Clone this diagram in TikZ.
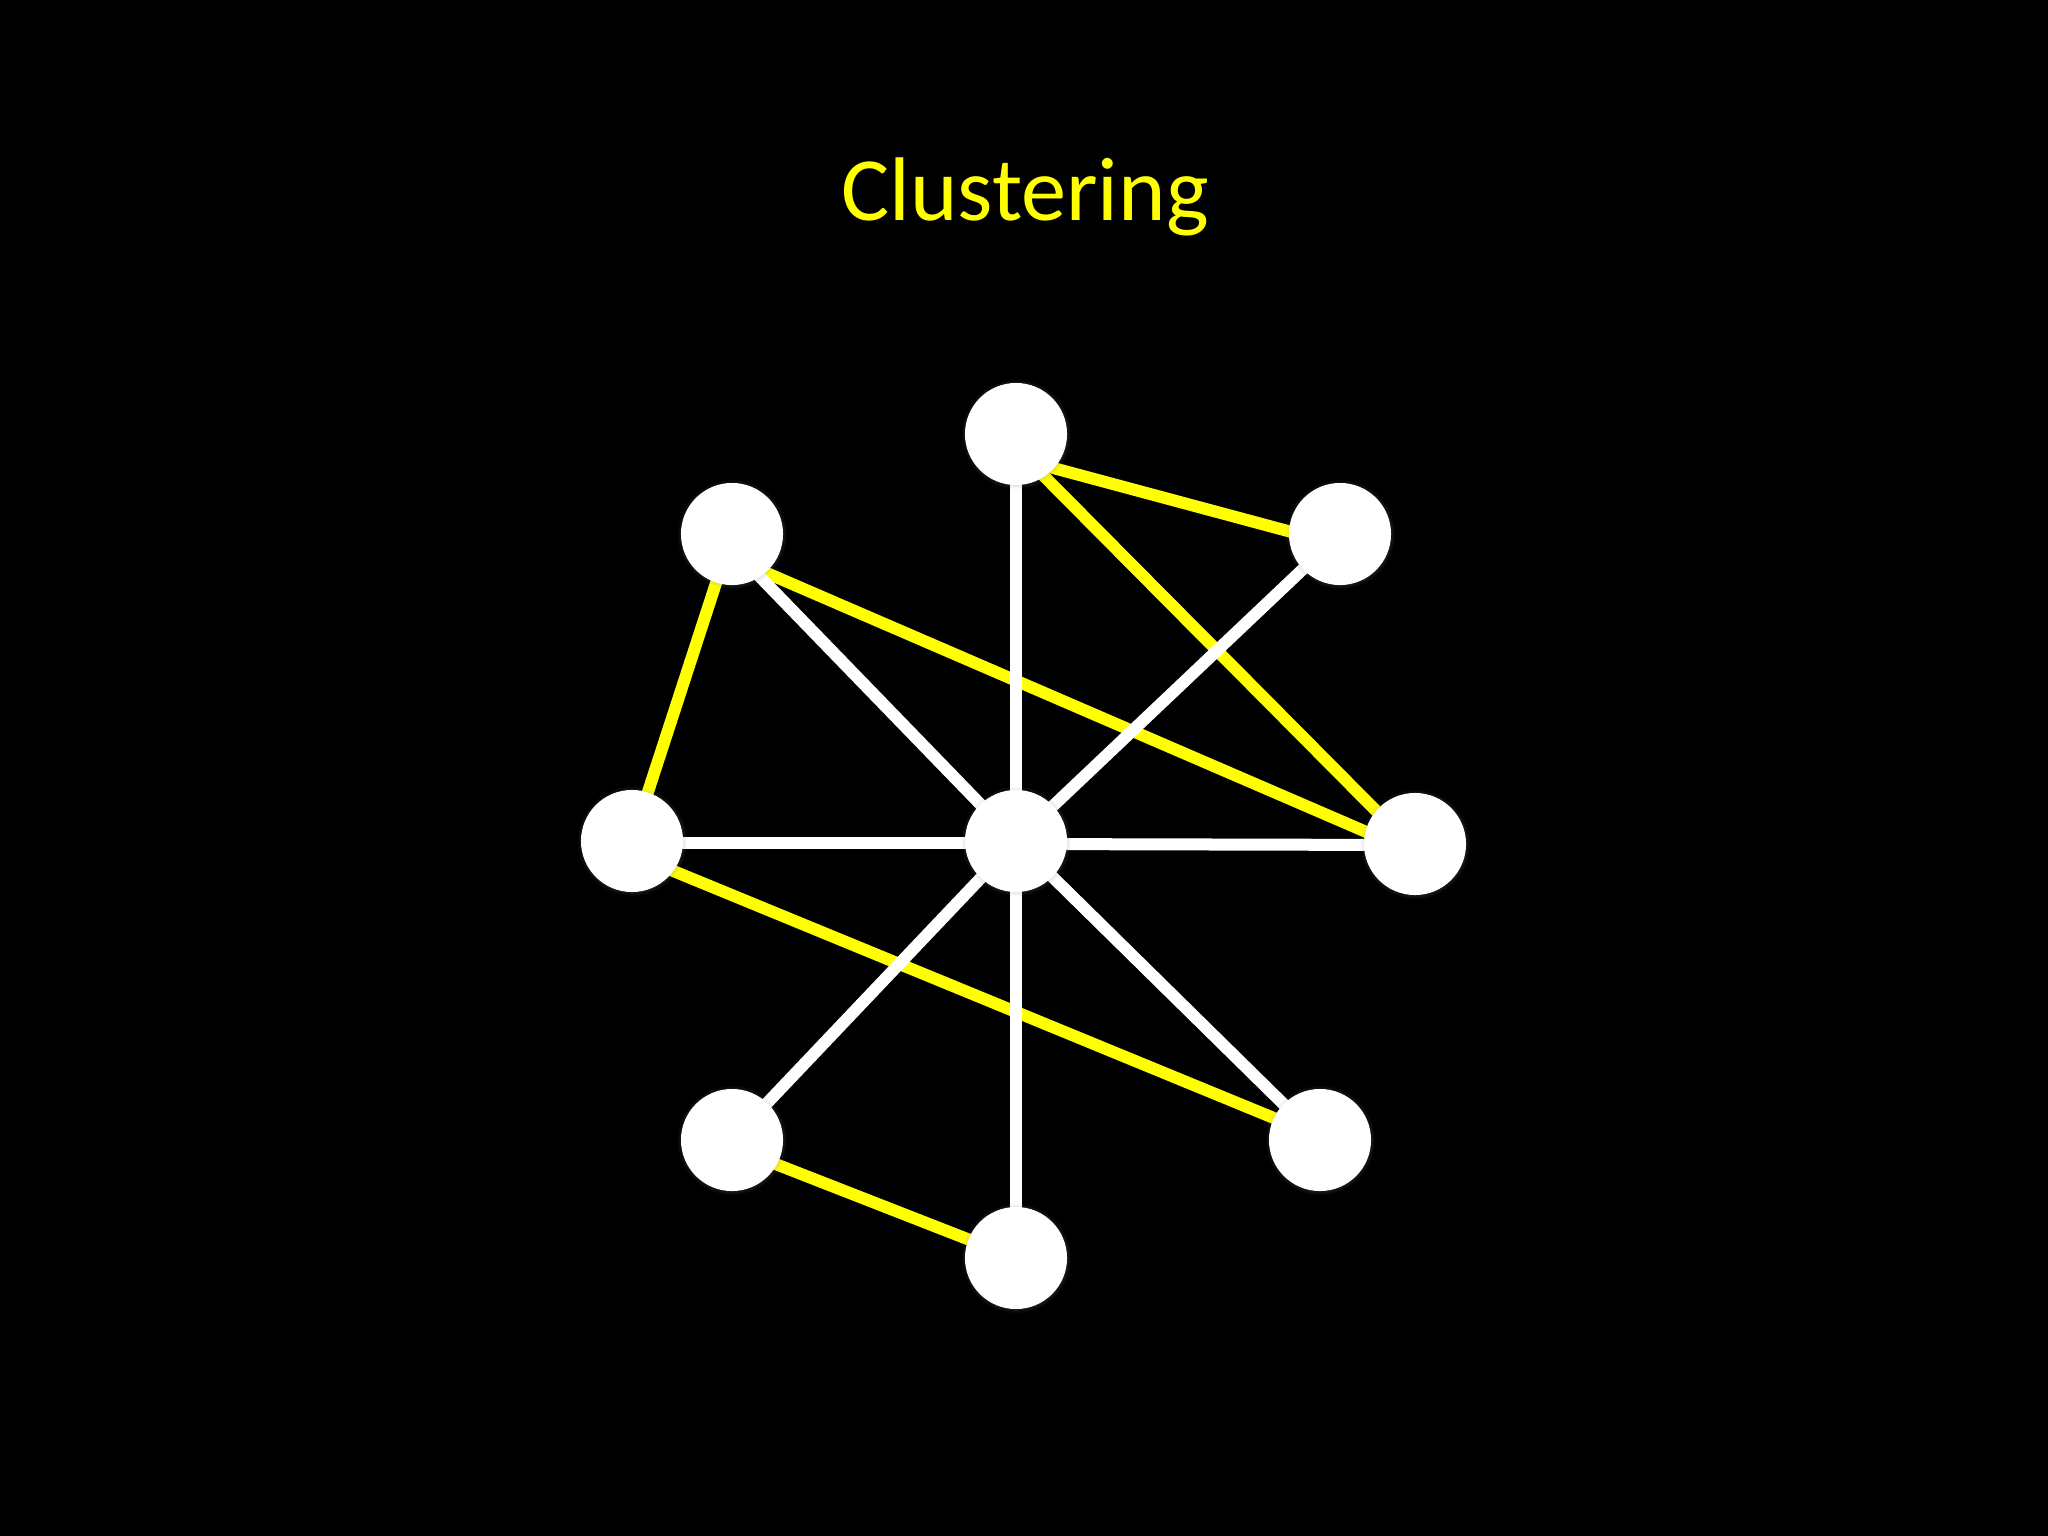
\documentclass[tikz,border=0pt]{standalone}
\usepackage{fontspec}
\setmainfont{Carlito}
\usetikzlibrary{backgrounds,calc,shadows}
\definecolor{hiyellow}{RGB}{255,255,0}
\tikzset{
  vert/.style={circle, fill=white, draw=none, minimum size=1.02cm, inner sep=0pt,
    circular drop shadow={shadow xshift=0pt, shadow yshift=0pt, shadow scale=1.08, opacity=0.35}},
  whiteedge/.style={draw=white, line width=0.12cm},
  yellowedge/.style={draw=hiyellow, line width=0.12cm},
}
\begin{document}
\begin{tikzpicture}[x=0.01cm, y=-0.01cm]
\useasboundingbox (0,0) rectangle (2048,1536);
\begin{scope}[on background layer]
\fill[black] (0,0) rectangle (2048,1536);
\end{scope}
\node[text=hiyellow, font=\fontsize{25.7}{30}\selectfont, anchor=base] (title) at (1025,220) {Clustering};
\node[vert] (top) at (1016,434) {};
\node[vert] (ul) at (732,534) {};
\node[vert] (ur) at (1340,534) {};
\node[vert] (left) at (632,841) {};
\node[vert] (center) at (1016,841) {};
\node[vert] (right) at (1415,844) {};
\node[vert] (ll) at (732,1140) {};
\node[vert] (lr) at (1320,1140) {};
\node[vert] (bottom) at (1016,1258) {};
\begin{scope}[on background layer]
\draw[yellowedge] ($(top.center)+(0,24)$) -- ($(ur.center)+(0,11)$);
\draw[yellowedge] ($(top.center)+(0,14)$) -- ($(right.center)+(0,6)$);
\draw[yellowedge] ($(ul.center)+(0,24)$) -- ($(right.center)+(0,9)$);
\draw[yellowedge] (ul.center) -- (left.center);
\draw[yellowedge] ($(left.center)+(0,13)$) -- ($(lr.center)+(0,-3)$);
\draw[yellowedge] ($(ll.center)+(0,7)$) -- (bottom.center);
\draw[whiteedge] (center.center) -- (top.center);
\draw[whiteedge] (center.center) -- ($(ul.center)+(0,14)$);
\draw[whiteedge] (center.center) -- (ur.center);
\draw[whiteedge] ($(center.center)+(0,2)$) -- ($(left.center)+(0,2)$);
\draw[whiteedge] ($(center.center)+(0,3)$) -- ($(right.center)+(0,1)$);
\draw[whiteedge] (center.center) -- (ll.center);
\draw[whiteedge] (center.center) -- (lr.center);
\draw[whiteedge] (center.center) -- (bottom.center);
\end{scope}
\end{tikzpicture}
\end{document}
